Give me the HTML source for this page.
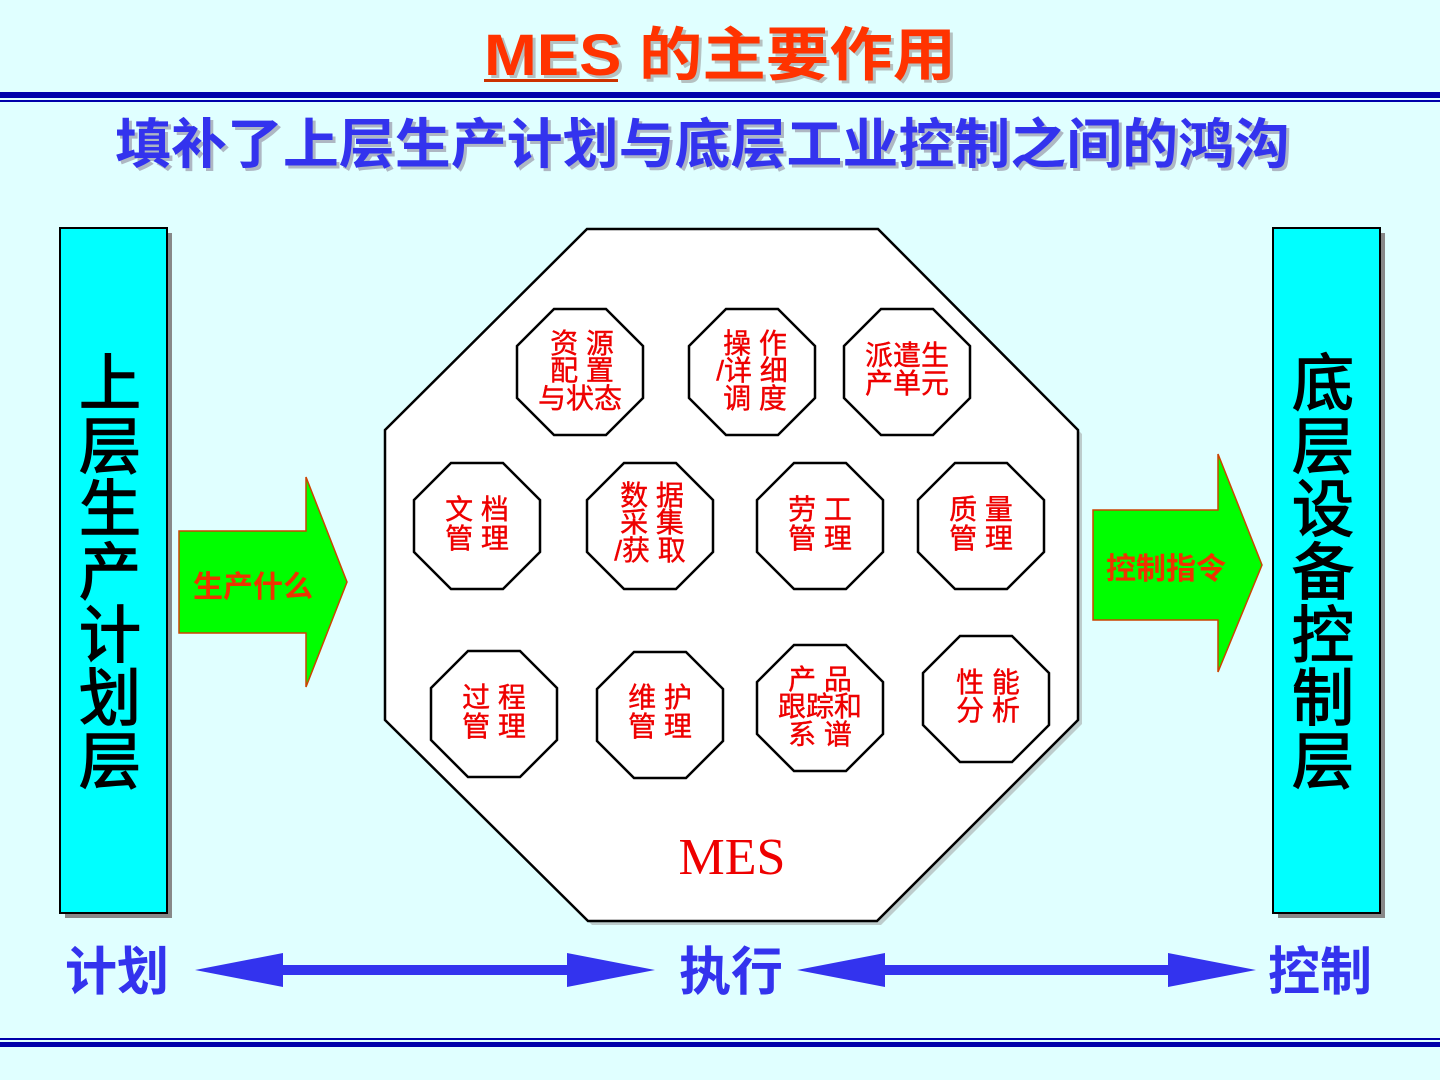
<!DOCTYPE html>
<html><head><meta charset="utf-8"><style>
html,body{margin:0;padding:0;background:#e0ffff;}
svg{display:block}
text{font-family:"Liberation Sans","Noto Sans CJK SC",sans-serif;}
</style></head><body>
<svg width="1440" height="1080" viewBox="0 0 1440 1080" xmlns="http://www.w3.org/2000/svg">
<rect width="1440" height="1080" fill="#e0ffff"/>
<!-- title -->
<text x="487" y="78" textLength="472" lengthAdjust="spacingAndGlyphs" font-size="58" font-weight="bold" fill="#999" opacity="0.6">MES 的主要作用</text>
<text x="484" y="75" textLength="472" lengthAdjust="spacingAndGlyphs" font-size="58" font-weight="bold" fill="#ff3300">MES 的主要作用</text>
<rect x="484" y="79" width="134" height="3" fill="#cc3300"/>
<rect x="0" y="92" width="1440" height="6" fill="#0000aa"/>
<rect x="0" y="100" width="1440" height="2" fill="#0000aa"/>
<text x="118" y="166" textLength="1175" lengthAdjust="spacingAndGlyphs" font-size="54" font-weight="bold" fill="#9999aa" opacity="0.7">填补了上层生产计划与底层工业控制之间的鸿沟</text>
<text x="115" y="163" textLength="1175" lengthAdjust="spacingAndGlyphs" font-size="54" font-weight="bold" fill="#3333ee">填补了上层生产计划与底层工业控制之间的鸿沟</text>
<!-- left bar -->
<rect x="65" y="233" width="107" height="685" fill="#888"/>
<rect x="60" y="228" width="107" height="685" fill="#00ffff" stroke="#000" stroke-width="2"/>
<g font-size="62" fill="#000" text-anchor="middle" stroke="#000" stroke-width="1.5">
<text x="110" y="405">上</text><text x="110" y="468">层</text><text x="110" y="531">生</text><text x="110" y="594">产</text><text x="110" y="657">计</text><text x="110" y="720">划</text><text x="110" y="783">层</text>
</g>
<!-- right bar -->
<rect x="1278" y="233" width="107" height="685" fill="#888"/>
<rect x="1273" y="228" width="107" height="685" fill="#00ffff" stroke="#000" stroke-width="2"/>
<g font-size="62" fill="#000" text-anchor="middle" stroke="#000" stroke-width="1.5">
<text x="1323" y="405">底</text><text x="1323" y="468">层</text><text x="1323" y="531">设</text><text x="1323" y="594">备</text><text x="1323" y="657">控</text><text x="1323" y="720">制</text><text x="1323" y="783">层</text>
</g>
<!-- green arrows -->
<polygon points="179,531 306,531 306,477 347,582 306,687 306,633 179,633" fill="#00ff00" stroke="#cc4400" stroke-width="1.5"/>
<text x="253" y="597" text-anchor="middle" font-size="30" font-weight="bold" fill="#ee3300">生产什么</text>
<polygon points="1093,510 1218,510 1218,454 1262,565 1218,672 1218,620 1093,620" fill="#00ff00" stroke="#cc4400" stroke-width="1.5"/>
<text x="1166" y="579" text-anchor="middle" font-size="30" font-weight="bold" fill="#ee3300">控制指令</text>
<!-- main octagon -->
<polygon points="591,233 882,233 1082,434 1082,724 881,925 592,925 389,724 389,434" fill="#999" opacity="0.5"/>
<polygon points="587,229 878,229 1078,430 1078,720 877,921 588,921 385,720 385,430" fill="#fff" stroke="#000" stroke-width="2.5"/>
<text x="732" y="874" text-anchor="middle" font-size="52" fill="#ee0000" style="font-family:'Liberation Serif',serif">MES</text>
<!-- small octagons -->
<defs>
<polygon id="o" points="-26,-63 26,-63 63,-26 63,26 26,63 -26,63 -63,26 -63,-26" fill="#fff" stroke="#000" stroke-width="2.5"/>
</defs>
<g>
<use href="#o" x="580" y="372"/><use href="#o" x="752" y="372"/><use href="#o" x="907" y="372"/>
<use href="#o" x="477" y="526"/><use href="#o" x="650" y="526"/><use href="#o" x="820" y="526"/><use href="#o" x="981" y="526"/>
<use href="#o" x="494" y="714"/><use href="#o" x="660" y="715"/><use href="#o" x="820" y="708"/><use href="#o" x="986" y="699"/>
</g>
<g font-size="28" fill="#ee0000" text-anchor="middle" stroke="#ee0000" stroke-width="0.4">
<text x="582" y="353">资 源</text><text x="582" y="380">配 置</text><text x="580" y="408">与状态</text>
<text x="755" y="353">操 作</text><text x="752" y="380">/详 细</text><text x="755" y="408">调 度</text>
<text x="907" y="365">派遣生</text><text x="907" y="393">产单元</text>
<text x="477" y="519">文 档</text><text x="477" y="548">管 理</text>
<text x="652" y="505">数 据</text><text x="652" y="532">采 集</text><text x="650" y="560">/获 取</text>
<text x="820" y="519">劳 工</text><text x="820" y="548">管 理</text>
<text x="981" y="519">质 量</text><text x="981" y="548">管 理</text>
<text x="494" y="707">过 程</text><text x="494" y="736">管 理</text>
<text x="660" y="707">维 护</text><text x="660" y="736">管 理</text>
<text x="820" y="689">产 品</text><text x="820" y="716">跟踪和</text><text x="820" y="744">系 谱</text>
<text x="988" y="692">性 能</text><text x="988" y="720">分 析</text>
</g>
<!-- bottom -->
<g font-size="52" font-weight="bold" fill="#3333ee" text-anchor="middle">
<text x="117" y="990">计划</text><text x="731" y="990">执行</text><text x="1320" y="990">控制</text>
</g>
<g fill="#3333ee">
<polygon points="195,970 283,953 283,965 567,965 567,953 655,970 567,987 567,975 283,975 283,987"/>
<polygon points="797,970 885,953 885,965 1168,965 1168,953 1256,970 1168,987 1168,975 885,975 885,987"/>
</g>
<rect x="0" y="1038" width="1440" height="2" fill="#0000aa"/>
<rect x="0" y="1042" width="1440" height="5" fill="#0000aa"/>
</svg>
</body></html>
